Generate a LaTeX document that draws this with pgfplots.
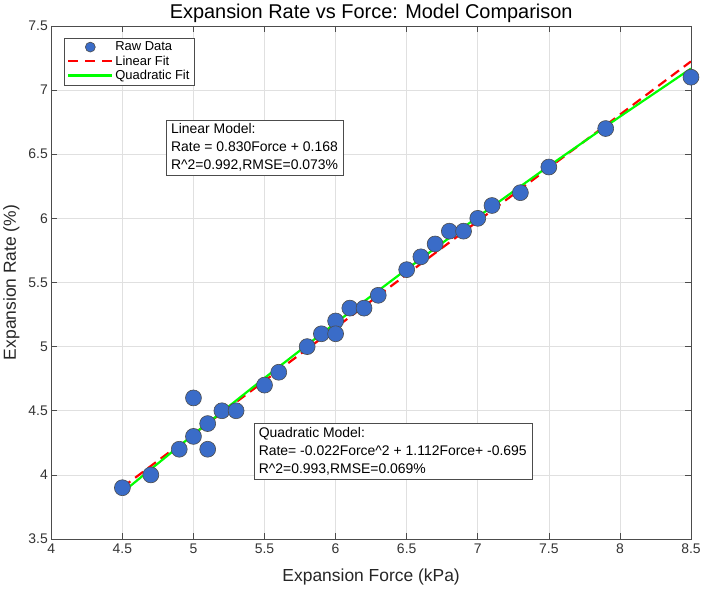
\documentclass[border=0pt]{standalone}
\usepackage{pgfplots}
\pgfplotsset{compat=1.18}
\usepackage{fontspec}
\setmainfont{Liberation Sans}
\definecolor{ptblue}{RGB}{58,108,200}
\definecolor{fitgreen}{RGB}{0,255,0}
\begin{document}
\begin{tikzpicture}[x=1pt,y=1pt]
\pgfplotstableread{
x y
4.5 3.9
4.7 4.0
4.9 4.2
5.0 4.3
5.0 4.6
5.1 4.4
5.1 4.2
5.2 4.5
5.3 4.5
5.5 4.7
5.6 4.8
5.8 5.0
5.9 5.1
6.0 5.2
6.0 5.1
6.1 5.3
6.2 5.3
6.3 5.4
6.5 5.6
6.6 5.7
6.7 5.8
6.8 5.9
6.9 5.9
7.0 6.0
7.1 6.1
7.3 6.2
7.5 6.4
7.9 6.7
8.5 7.1
}\rawdata
\begin{axis}[
  at={(0,0)}, anchor=south west,
  scale only axis, width=642pt, height=515pt,
  xmin=4, xmax=8.5, ymin=3.5, ymax=7.5,
  xtick={4,4.5,...,8.5}, ytick={3.5,4,...,7.5},
  xticklabels={4,4.5,5,5.5,6,6.5,7,7.5,8,8.5},
  yticklabels={3.5,4,4.5,5,5.5,6,6.5,7,7.5},
  /pgf/number format/assume math mode=true,
  grid=major, major grid style={draw=black!12, line width=0.6pt},
  axis line style={draw=black!70, line width=0.6pt},
  tick style={draw=black!70, line width=0.6pt},
  tick align=inside, major tick length=6pt,
  ticklabel style={font=\fontsize{14}{16}\selectfont, text=black!80},
  xticklabel style={yshift=-1pt},
  xlabel={Expansion Force (kPa)}, ylabel={Expansion Rate (\%)},
  label style={font=\fontsize{17.5}{20}\selectfont, text=black!85},
  title={Expansion Rate vs Force: Model Comparison},
  title style={font=\fontsize{20}{23}\selectfont, yshift=-6pt},
  xlabel style={yshift=-9pt}, ylabel style={yshift=2pt},
  legend style={at={(0.02,0.977)}, anchor=north west, draw=black!70, fill=white,
    font=\fontsize{13}{15}\selectfont, row sep=-0.5pt, inner xsep=3pt, inner ysep=2pt},
  legend cell align=left,
]
\addplot[only marks, mark=*, mark size=8pt, mark options={fill=ptblue, draw=black!70, line width=0.6pt},
  legend image code/.code={\draw[mark=*, mark size=5pt, mark options={fill=ptblue, draw=black!70, line width=0.6pt}] plot coordinates {(22pt,0pt)};}] table[x=x,y=y]{\rawdata};
\addlegendentry{Raw Data}
\addplot[red, line width=2.2pt, dash pattern=on 10pt off 6pt,
  legend image code/.code={\draw[red, line width=2.2pt, dash pattern=on 10pt off 7pt] (0pt,0pt) -- (44pt,0pt);}] coordinates {(4.5,3.903) (8.5,7.223)};
\addlegendentry{Linear Fit}
\addplot[fitgreen, line width=2.2pt,
  legend image code/.code={\draw[fitgreen, line width=2.2pt] (0pt,0pt) -- (44pt,0pt);}] coordinates {(4.5,3.8635) (5.0,4.315) (5.5,4.7555) (6.0,5.185) (6.5,5.6035) (7.0,6.011) (7.5,6.4075) (8.0,6.793) (8.5,7.1675)};
\addlegendentry{Quadratic Fit}
\node[draw=black!70, fill=white, anchor=north west, align=left, inner xsep=5pt, inner ysep=4pt, font=\fontsize{14}{18}\selectfont] at (axis cs:4.806,6.77) {Linear Model:\\Rate = 0.830Force + 0.168\\R\textasciicircum2=0.992,RMSE=0.073\%};
\node[draw=black!70, fill=white, anchor=north west, align=left, inner xsep=5pt, inner ysep=4pt, font=\fontsize{14}{18}\selectfont] at (axis cs:5.423,4.401) {Quadratic Model:\\Rate= -0.022Force\textasciicircum2 + 1.112Force+ -0.695\\R\textasciicircum2=0.993,RMSE=0.069\%};
\end{axis}
\path (-50,-48) rectangle (654,541);
\end{tikzpicture}
\end{document}
